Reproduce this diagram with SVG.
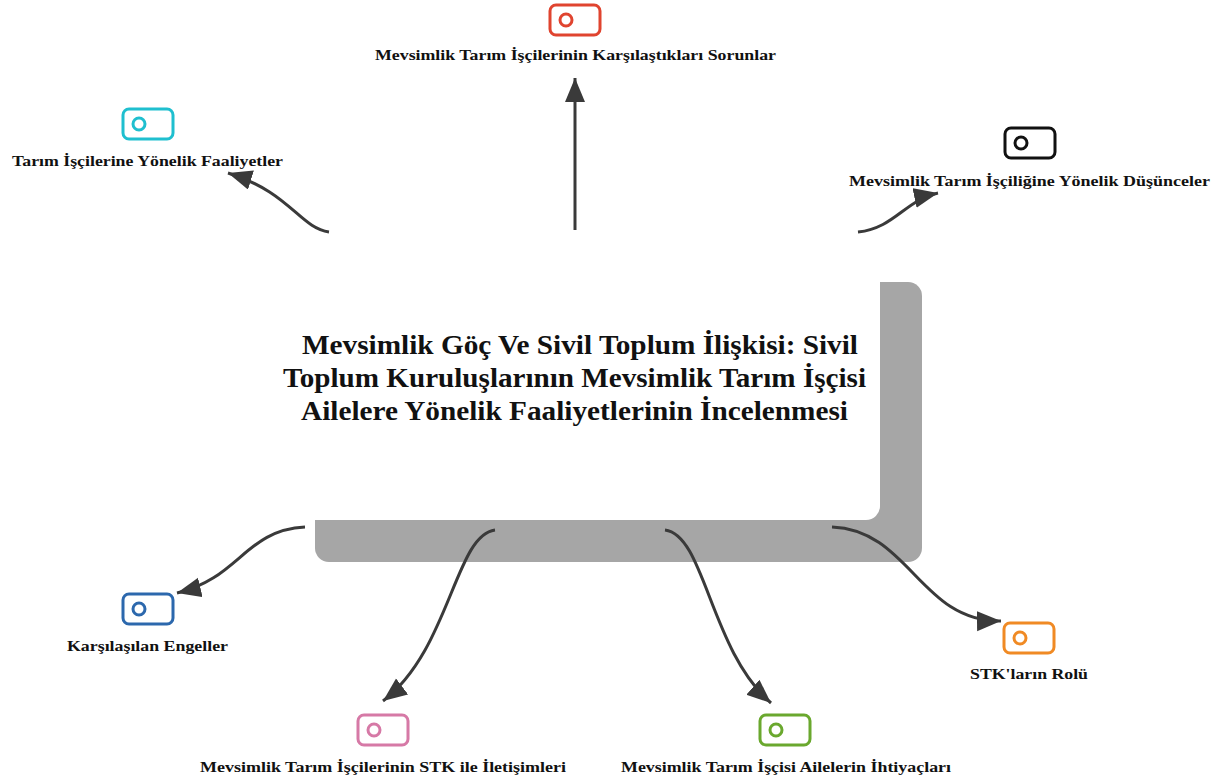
<svg xmlns="http://www.w3.org/2000/svg" width="1227" height="783" viewBox="0 0 1227 783">
<style>
.lbl{font-family:"Liberation Serif","Times New Roman",serif;font-weight:bold;font-size:15.5px;fill:#111;text-anchor:middle}
.title{font-family:"Liberation Serif","Times New Roman",serif;font-weight:bold;font-size:28px;fill:#111;text-anchor:middle}
.ic{fill:#fff;stroke-width:3}
.edge{fill:none;stroke:#3a3a3a;stroke-width:3}
</style>
<defs>
<marker id="ah" markerUnits="userSpaceOnUse" markerWidth="26" markerHeight="22" refX="24" refY="10" orient="auto">
<path d="M0,0 L24,10 L0,20 Z" fill="#3a3a3a"/>
</marker>
</defs>
<rect width="1227" height="783" fill="#fff"/>
<g id="center">
<rect x="315" y="282" width="607" height="280" rx="14" fill="#a6a6a6"/>
<rect x="273" y="240" width="607" height="280" rx="14" fill="#fff"/>
<text class="title" x="580" y="354" textLength="556" lengthAdjust="spacingAndGlyphs">Mevsimlik Göç Ve Sivil Toplum İlişkisi: Sivil</text>
<text class="title" x="574.5" y="387" textLength="583" lengthAdjust="spacingAndGlyphs">Toplum Kuruluşlarının Mevsimlik Tarım İşçisi</text>
<text class="title" x="574.5" y="420" textLength="547" lengthAdjust="spacingAndGlyphs">Ailelere Yönelik Faaliyetlerinin İncelenmesi</text>
</g>
<g id="connectors">
<path class="edge" d="M575,230 L575,78" marker-end="url(#ah)"/>
<path class="edge" d="M329,232 C300,228 290,192 228,173" marker-end="url(#ah)"/>
<path class="edge" d="M858,232 C895,228 905,200 938,193" marker-end="url(#ah)"/>
<path class="edge" d="M305,527 C245,530 240,578 177,593" marker-end="url(#ah)"/>
<path class="edge" d="M495,530 C455,535 450,650 383,701" marker-end="url(#ah)"/>
<path class="edge" d="M665,530 C705,535 710,650 771,703" marker-end="url(#ah)"/>
<path class="edge" d="M832,527 C910,530 920,622 1001,621" marker-end="url(#ah)"/>
</g>
<g id="n-sorunlar">
<rect class="ic" x="550" y="5" width="50" height="30" rx="6" stroke="#e0442f"/>
<circle class="ic" cx="566" cy="20" r="6" stroke="#e0442f"/>
<text class="lbl" x="575.5" y="60" textLength="401" lengthAdjust="spacingAndGlyphs">Mevsimlik Tarım İşçilerinin Karşılaştıkları Sorunlar</text>
</g>
<g id="n-faaliyetler">
<rect class="ic" x="123" y="109" width="50" height="30" rx="6" stroke="#1fbfcf"/>
<circle class="ic" cx="139" cy="124" r="6" stroke="#1fbfcf"/>
<text class="lbl" x="147.5" y="166" textLength="271" lengthAdjust="spacingAndGlyphs">Tarım İşçilerine Yönelik Faaliyetler</text>
</g>
<g id="n-dusunceler">
<rect class="ic" x="1005" y="128" width="50" height="30" rx="6" stroke="#111"/>
<circle class="ic" cx="1021" cy="143" r="6" stroke="#111"/>
<text class="lbl" x="1029.5" y="186" textLength="361" lengthAdjust="spacingAndGlyphs">Mevsimlik Tarım İşçiliğine Yönelik Düşünceler</text>
</g>
<g id="n-engeller">
<rect class="ic" x="123" y="594" width="50" height="30" rx="6" stroke="#2c68ad"/>
<circle class="ic" cx="139" cy="609" r="6" stroke="#2c68ad"/>
<text class="lbl" x="147.5" y="651" textLength="161" lengthAdjust="spacingAndGlyphs">Karşılaşılan Engeller</text>
</g>
<g id="n-iletisim">
<rect class="ic" x="358" y="715" width="50" height="30" rx="6" stroke="#d679a6"/>
<circle class="ic" cx="374" cy="730" r="6" stroke="#d679a6"/>
<text class="lbl" x="383" y="772" textLength="366" lengthAdjust="spacingAndGlyphs">Mevsimlik Tarım İşçilerinin STK ile İletişimleri</text>
</g>
<g id="n-ihtiyaclar">
<rect class="ic" x="760" y="715" width="50" height="30" rx="6" stroke="#6aa82e"/>
<circle class="ic" cx="776" cy="730" r="6" stroke="#6aa82e"/>
<text class="lbl" x="786" y="772" textLength="330" lengthAdjust="spacingAndGlyphs">Mevsimlik Tarım İşçisi Ailelerin İhtiyaçları</text>
</g>
<g id="n-rol">
<rect class="ic" x="1004" y="623" width="50" height="30" rx="6" stroke="#f08a24"/>
<circle class="ic" cx="1020" cy="638" r="6" stroke="#f08a24"/>
<text class="lbl" x="1029" y="679" textLength="118" lengthAdjust="spacingAndGlyphs">STK'ların Rolü</text>
</g>
</svg>
